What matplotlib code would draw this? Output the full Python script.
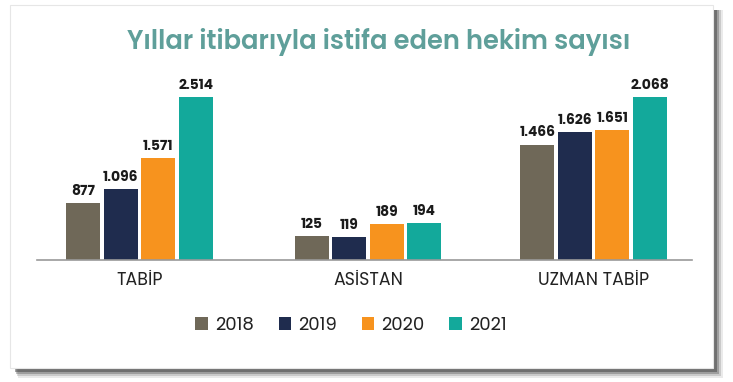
import matplotlib
matplotlib.use("Agg")
import matplotlib.pyplot as plt
from matplotlib.patches import Rectangle
from matplotlib.lines import Line2D

# ---- data ----
categories = ["TABİP", "ASİSTAN", "UZMAN TABİP"]
years = ["2018", "2019", "2020", "2021"]
values_2018 = [877, 125, 1466]
values_2019 = [1096, 119, 1626]
values_2020 = [1571, 189, 1651]
values_2021 = [2514, 194, 2068]
series = [values_2018, values_2019, values_2020, values_2021]
title = "Yıllar itibarıyla istifa eden hekim sayısı"

# ---- style ----
colors = ["#6F6858", "#1F2C4E", "#F7931E", "#13A99B"]
title_color = "#5F9F9A"
FONT = ["Poppins", "Lato", "DejaVu Sans"]
plt.rcParams["font.family"] = FONT

W, H = 733, 382
fig = plt.figure(figsize=(W / 100, H / 100), dpi=100)
fig.patch.set_facecolor("white")

def fx(px):
    return px / W

def fy(py):
    return 1 - py / H

# card shadow + card
for i, a in enumerate([0.10, 0.18, 0.30, 0.45]):
    off = 10 - i * 2
    fig.patches.append(Rectangle((fx(14 + (4 - i)), fy(368 + off)),
                                 fx(713 + off - 14 - (4 - i)), (368 + off - 10) / H,
                                 transform=fig.transFigure, facecolor="#3a3a3a",
                                 edgecolor="none", alpha=a, zorder=0))
fig.patches.append(Rectangle((fx(10), fy(368)), fx(703), 363 / H,
                             transform=fig.transFigure, facecolor="white",
                             edgecolor="#e6e6e6", linewidth=0.8, zorder=1))

fig.text(fx(379), fy(42), title, ha="center", va="center", fontsize=18.5,
         color=title_color, fontweight="semibold", zorder=5)

centers = [139.5, 368, 593.5]
ytops = [3085, 1050, 2540]
base_y = 260
ax_h = 200
half_w = 113.5
pitch = 37.5

for g, cat in enumerate(categories):
    ax = fig.add_axes([fx(centers[g] - half_w), fy(base_y), fx(2 * half_w), ax_h / H],
                      zorder=3)
    ax.set_facecolor("none")
    for k, yr in enumerate(years):
        v = series[k][g]
        bars = ax.bar([k - 1.5], [v], width=0.9, color=colors[k], zorder=3)
        lab = f"{v:,}".replace(",", ".")
        ax.bar_label(bars, labels=[lab], padding=3, fontsize=10,
                     fontweight="bold", color="#1b1b1b")
    ax.set_xlim(-half_w / pitch, half_w / pitch)
    ax.set_ylim(0, ytops[g])
    ax.axis("off")
    fig.text(fx(centers[g]), fy(281), cat, ha="center", va="center",
             fontsize=12.5, color="#222222", zorder=5)

fig.lines.append(Line2D([fx(37), fx(692)], [fy(base_y), fy(base_y)],
                        transform=fig.transFigure, color="#9a9a9a", linewidth=1.2,
                        zorder=4))

# legend
handles = [Rectangle((0, 0), 1, 1, facecolor=c) for c in colors]
leg = fig.legend(handles, years, loc="center", bbox_to_anchor=(fx(351), fy(326)),
                 ncol=4, frameon=False, fontsize=13, handlelength=0.7,
                 handleheight=0.7, handletextpad=0.4, columnspacing=1.35,
                 labelcolor="#222222")

fig.savefig("out.png", dpi=100, facecolor="white")
